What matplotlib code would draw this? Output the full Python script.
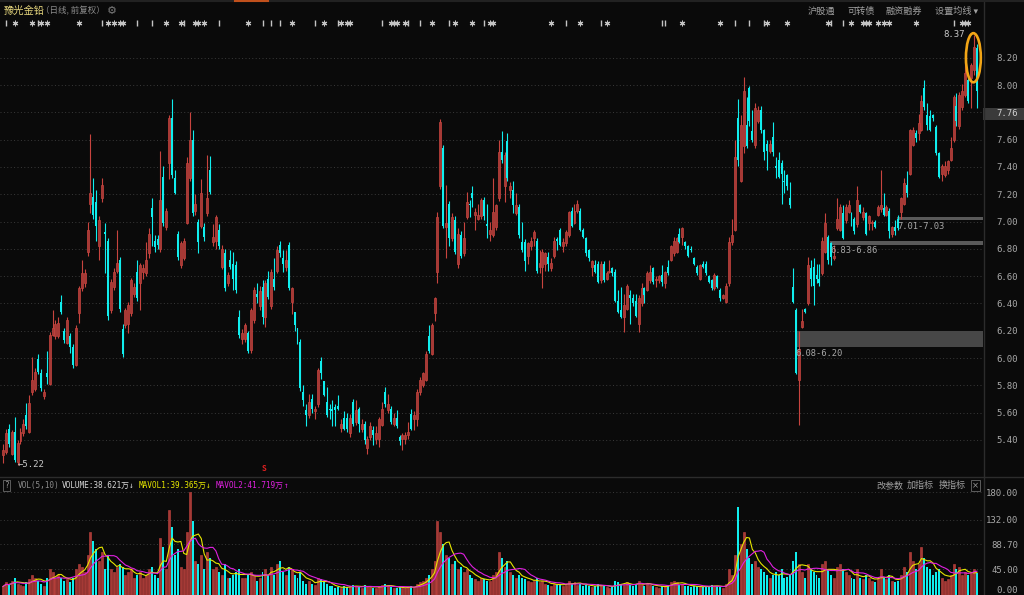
import numpy as np
import pandas as pd
import matplotlib.pyplot as plt
from matplotlib.patches import Rectangle, Ellipse
import matplotlib.transforms as mtransforms

plt.rcParams['font.family'] = ['Noto Sans CJK SC', 'DejaVu Sans']

# daily candles (price, yuan)
opens = [
    5.29, 5.31, 5.48, 5.30, 5.46, 5.24, 5.39, 5.45, 5.58, 5.46,
    5.75, 5.77, 5.99, 5.89, 5.72, 5.89, 5.81, 6.17, 6.16, 6.16,
    6.41, 6.20, 6.11, 6.16, 6.08, 5.95, 6.33, 6.51, 6.55, 6.78,
    7.13, 7.18, 7.14, 6.82, 7.17, 6.92, 6.86, 6.35, 6.52, 6.64,
    6.72, 6.21, 6.24, 6.25, 6.33, 6.47, 6.63, 6.55, 6.63, 6.62,
    6.77, 7.10, 6.86, 6.87, 6.80, 7.33, 6.96, 7.43, 7.76, 7.32,
    6.91, 6.68, 6.73, 6.99, 7.32, 7.60, 7.08, 7.00, 6.97, 6.96,
    7.06, 7.38, 6.85, 6.86, 6.94, 6.67, 6.77, 6.55, 6.72, 6.69,
    6.68, 6.30, 6.14, 6.14, 6.18, 6.06, 6.28, 6.47, 6.38, 6.52,
    6.30, 6.58, 6.38, 6.58, 6.64, 6.83, 6.73, 6.67, 6.83, 6.41,
    6.34, 6.22, 6.12, 5.75, 5.62, 5.58, 5.70, 5.61, 5.66, 5.98,
    5.83, 5.68, 5.63, 5.63, 5.64, 5.65, 5.49, 5.56, 5.56, 5.45,
    5.68, 5.53, 5.63, 5.48, 5.52, 5.34, 5.42, 5.47, 5.41, 5.41,
    5.51, 5.75, 5.62, 5.63, 5.52, 5.56, 5.42, 5.41, 5.41, 5.44,
    5.59, 5.55, 5.55, 5.75, 5.80, 5.84, 6.16, 6.03, 6.33, 6.63,
    7.26, 7.54, 6.96, 7.13, 6.88, 7.01, 6.69, 6.90, 6.77, 7.03,
    7.13, 7.21, 7.05, 7.02, 7.04, 7.16, 6.98, 6.91, 6.90, 6.96,
    7.17, 7.51, 7.26, 7.59, 7.23, 7.23, 7.06, 7.11, 6.85, 6.85,
    6.75, 6.82, 6.88, 6.86, 6.67, 6.67, 6.69, 6.74, 6.66, 6.75,
    6.87, 6.94, 6.82, 6.84, 6.90, 7.08, 6.99, 7.08, 7.08, 6.94,
    6.88, 6.79, 6.67, 6.68, 6.69, 6.57, 6.69, 6.58, 6.63, 6.66,
    6.63, 6.42, 6.35, 6.30, 6.36, 6.46, 6.44, 6.42, 6.25, 6.40,
    6.51, 6.50, 6.57, 6.66, 6.57, 6.57, 6.61, 6.55, 6.67, 6.72,
    6.77, 6.78, 6.91, 6.89, 6.85, 6.82, 6.80, 6.73, 6.67, 6.58,
    6.69, 6.69, 6.60, 6.57, 6.51, 6.60, 6.50, 6.44, 6.41, 6.55,
    6.85, 6.94, 7.76, 7.30, 7.55, 7.71, 7.98, 7.66, 7.56, 7.74,
    7.82, 7.67, 7.57, 7.52, 7.62, 7.41, 7.45, 7.43, 7.30, 7.34,
    7.17, 6.52, 6.35, 5.84, 6.23, 6.36, 6.40, 6.66, 6.67, 6.61,
    6.58, 6.62, 6.78, 6.89, 6.84, 6.73, 6.95, 6.94, 7.06, 7.01,
    7.07, 7.05, 7.02, 6.98, 7.12, 7.03, 7.06, 6.99, 6.99, 7.00,
    7.05, 7.09, 7.10, 7.05, 7.08, 6.91, 6.96, 7.02, 7.07, 7.13,
    7.27, 7.35, 7.56, 7.65, 7.65, 7.67, 7.98, 7.78, 7.77, 7.78,
    7.69, 7.50, 7.35, 7.34, 7.38, 7.45, 7.60, 7.85, 7.70, 7.84,
    7.93, 8.04, 8.05, 8.11, 8.27,
]
closes = [
    5.33, 5.45, 5.37, 5.46, 5.25, 5.38, 5.46, 5.52, 5.50, 5.67,
    5.84, 5.90, 5.90, 5.78, 5.75, 5.86, 6.17, 6.22, 6.25, 6.26,
    6.34, 6.13, 6.28, 6.08, 5.95, 6.22, 6.51, 6.62, 6.62, 6.94,
    7.21, 7.05, 6.97, 7.01, 7.27, 6.91, 6.31, 6.56, 6.63, 6.70,
    6.36, 6.03, 6.35, 6.39, 6.57, 6.52, 6.44, 6.68, 6.66, 6.72,
    6.91, 7.03, 6.81, 6.83, 7.16, 6.99, 7.08, 7.76, 7.34, 7.21,
    6.74, 6.84, 6.86, 7.43, 7.60, 7.06, 7.13, 6.85, 7.21, 6.89,
    7.17, 7.22, 6.89, 7.03, 6.82, 6.80, 6.51, 6.61, 6.67, 6.58,
    6.50, 6.17, 6.18, 6.24, 6.05, 6.35, 6.50, 6.45, 6.49, 6.30,
    6.55, 6.45, 6.63, 6.52, 6.79, 6.77, 6.69, 6.72, 6.51, 6.51,
    6.24, 6.12, 5.78, 5.69, 5.58, 5.68, 5.63, 5.63, 5.91, 5.89,
    5.73, 5.58, 5.62, 5.61, 5.62, 5.63, 5.52, 5.48, 5.48, 5.56,
    5.52, 5.62, 5.52, 5.52, 5.40, 5.41, 5.50, 5.44, 5.45, 5.55,
    5.63, 5.66, 5.66, 5.53, 5.56, 5.50, 5.39, 5.44, 5.44, 5.46,
    5.48, 5.58, 5.75, 5.84, 5.89, 6.03, 6.05, 6.24, 6.44, 7.03,
    7.73, 6.97, 6.99, 6.88, 7.03, 6.78, 6.91, 6.75, 6.88, 7.14,
    7.12, 7.17, 7.07, 7.05, 7.16, 7.04, 6.97, 6.94, 7.07, 7.12,
    7.51, 7.45, 7.49, 7.32, 7.26, 7.12, 7.12, 6.90, 6.79, 6.71,
    6.84, 6.86, 6.92, 6.64, 6.70, 6.78, 6.77, 6.69, 6.70, 6.86,
    6.86, 6.83, 6.85, 6.92, 7.07, 6.97, 7.08, 7.13, 6.94, 6.89,
    6.77, 6.73, 6.71, 6.63, 6.56, 6.69, 6.57, 6.62, 6.64, 6.62,
    6.42, 6.34, 6.30, 6.39, 6.53, 6.44, 6.40, 6.31, 6.44, 6.51,
    6.46, 6.62, 6.63, 6.56, 6.58, 6.60, 6.56, 6.63, 6.62, 6.82,
    6.86, 6.88, 6.85, 6.95, 6.82, 6.75, 6.79, 6.69, 6.62, 6.68,
    6.67, 6.62, 6.56, 6.51, 6.61, 6.52, 6.44, 6.46, 6.53, 6.85,
    6.90, 7.47, 7.45, 7.71, 7.96, 7.55, 7.74, 7.60, 7.83, 7.82,
    7.67, 7.51, 7.52, 7.57, 7.51, 7.39, 7.33, 7.35, 7.29, 7.26,
    7.12, 6.41, 5.89, 6.07, 6.27, 6.34, 6.68, 6.58, 6.53, 6.58,
    6.55, 6.86, 6.99, 6.72, 6.74, 6.75, 7.02, 7.11, 6.88, 7.11,
    7.12, 7.00, 6.93, 7.16, 7.07, 7.07, 6.91, 7.04, 7.00, 6.96,
    7.11, 7.12, 7.05, 7.11, 6.93, 6.96, 6.93, 6.95, 7.17, 7.28,
    7.21, 7.67, 7.67, 7.61, 7.72, 7.88, 7.84, 7.71, 7.67, 7.76,
    7.50, 7.33, 7.41, 7.41, 7.44, 7.54, 7.91, 7.74, 7.93, 7.96,
    8.09, 7.88, 8.15, 8.28, 7.96,
]
highs = [
    5.37, 5.48, 5.52, 5.47, 5.57, 5.40, 5.49, 5.55, 5.67, 5.73,
    6.01, 5.93, 6.03, 5.92, 5.77, 6.05, 6.19, 6.35, 6.28, 6.30,
    6.46, 6.22, 6.30, 6.18, 6.10, 6.24, 6.53, 6.72, 6.65, 7.00,
    7.64, 7.32, 7.23, 7.04, 7.32, 6.99, 6.88, 6.58, 6.66, 6.94,
    6.74, 6.25, 6.37, 6.41, 6.59, 6.55, 6.72, 6.70, 6.69, 6.85,
    6.95, 7.17, 6.90, 6.90, 7.52, 7.41, 7.10, 7.78, 7.90, 7.38,
    6.93, 6.86, 6.88, 7.47, 7.80, 7.67, 7.20, 7.02, 7.31, 6.99,
    7.49, 7.48, 6.98, 7.05, 6.98, 6.83, 6.80, 6.63, 6.79, 6.78,
    6.71, 6.35, 6.21, 6.26, 6.20, 6.37, 6.52, 6.55, 6.53, 6.57,
    6.57, 6.64, 6.65, 6.73, 6.82, 6.86, 6.79, 6.79, 6.85, 6.52,
    6.34, 6.22, 6.14, 5.80, 5.66, 5.74, 5.74, 5.65, 5.93, 6.01,
    5.83, 5.79, 5.66, 5.69, 5.66, 5.73, 5.55, 5.61, 5.60, 5.59,
    5.70, 5.69, 5.64, 5.55, 5.54, 5.43, 5.53, 5.50, 5.50, 5.57,
    5.68, 5.79, 5.74, 5.65, 5.60, 5.62, 5.44, 5.45, 5.46, 5.53,
    5.63, 5.61, 5.77, 5.86, 5.90, 6.05, 6.24, 6.26, 6.45, 7.07,
    7.75, 7.56, 7.27, 7.15, 7.06, 7.04, 6.95, 6.93, 7.00, 7.22,
    7.16, 7.26, 7.10, 7.13, 7.17, 7.18, 7.13, 7.00, 7.32, 7.13,
    7.60, 7.66, 7.51, 7.65, 7.29, 7.30, 7.21, 7.13, 7.00, 6.87,
    6.85, 6.89, 6.94, 6.88, 6.79, 6.80, 6.78, 6.78, 6.73, 6.89,
    6.89, 6.95, 6.88, 6.94, 7.08, 7.11, 7.13, 7.16, 7.10, 6.95,
    6.89, 6.80, 6.72, 6.72, 6.71, 6.71, 6.71, 6.64, 6.72, 6.67,
    6.65, 6.50, 6.52, 6.47, 6.54, 6.50, 6.47, 6.47, 6.46, 6.55,
    6.52, 6.64, 6.68, 6.67, 6.60, 6.61, 6.68, 6.64, 6.72, 6.83,
    6.89, 6.89, 6.95, 6.96, 6.86, 6.83, 6.82, 6.74, 6.68, 6.69,
    6.71, 6.71, 6.61, 6.58, 6.62, 6.61, 6.51, 6.47, 6.55, 6.89,
    7.02, 7.60, 7.90, 7.78, 8.06, 7.91, 7.99, 7.82, 7.87, 7.85,
    7.85, 7.68, 7.60, 7.60, 7.73, 7.47, 7.51, 7.45, 7.38, 7.35,
    7.29, 6.66, 6.37, 6.20, 6.36, 6.37, 6.74, 6.72, 6.73, 6.69,
    6.69, 6.89, 7.06, 6.90, 6.85, 6.83, 7.17, 7.13, 7.12, 7.13,
    7.16, 7.07, 7.03, 7.26, 7.13, 7.11, 7.07, 7.05, 7.01, 7.01,
    7.12, 7.38, 7.21, 7.12, 7.10, 6.97, 7.01, 7.05, 7.18, 7.32,
    7.37, 7.68, 7.69, 7.67, 7.79, 7.93, 8.04, 7.87, 7.82, 7.79,
    7.71, 7.51, 7.42, 7.44, 7.45, 7.62, 7.93, 7.94, 7.95, 8.01,
    8.16, 8.06, 8.16, 8.37, 8.30,
]
lows = [
    5.23, 5.30, 5.35, 5.29, 5.24, 5.22, 5.37, 5.43, 5.48, 5.45,
    5.73, 5.76, 5.88, 5.76, 5.70, 5.81, 5.80, 6.16, 6.14, 6.15,
    6.32, 6.11, 6.10, 6.04, 5.93, 5.94, 6.26, 6.49, 6.52, 6.75,
    7.06, 7.02, 6.86, 6.72, 7.14, 6.62, 6.28, 6.33, 6.50, 6.62,
    6.34, 6.01, 6.22, 6.18, 6.31, 6.45, 6.42, 6.35, 6.58, 6.60,
    6.73, 6.82, 6.78, 6.80, 6.78, 6.97, 6.94, 7.31, 7.32, 7.20,
    6.72, 6.66, 6.72, 6.98, 7.30, 7.04, 7.05, 6.77, 6.95, 6.86,
    7.04, 7.20, 6.82, 6.80, 6.80, 6.65, 6.49, 6.53, 6.65, 6.50,
    6.48, 6.15, 6.10, 6.12, 6.04, 6.04, 6.26, 6.40, 6.35, 6.25,
    6.23, 6.43, 6.36, 6.50, 6.62, 6.74, 6.63, 6.64, 6.50, 6.32,
    6.20, 6.10, 5.76, 5.65, 5.50, 5.56, 5.60, 5.55, 5.64, 5.85,
    5.72, 5.57, 5.55, 5.50, 5.50, 5.62, 5.46, 5.47, 5.46, 5.42,
    5.50, 5.51, 5.46, 5.46, 5.37, 5.30, 5.40, 5.36, 5.37, 5.35,
    5.50, 5.64, 5.60, 5.52, 5.50, 5.49, 5.36, 5.33, 5.37, 5.41,
    5.47, 5.47, 5.50, 5.73, 5.79, 5.83, 6.04, 6.02, 6.27, 6.55,
    7.24, 6.95, 6.73, 6.82, 6.86, 6.76, 6.66, 6.73, 6.75, 7.02,
    7.03, 7.11, 6.94, 7.01, 7.02, 7.01, 6.88, 6.86, 6.89, 6.94,
    7.15, 7.43, 7.14, 7.30, 7.17, 7.06, 7.05, 6.88, 6.78, 6.64,
    6.69, 6.79, 6.82, 6.62, 6.62, 6.51, 6.64, 6.64, 6.64, 6.73,
    6.79, 6.82, 6.78, 6.82, 6.89, 6.96, 6.98, 7.06, 6.93, 6.88,
    6.75, 6.71, 6.60, 6.62, 6.55, 6.55, 6.56, 6.57, 6.62, 6.60,
    6.41, 6.33, 6.29, 6.19, 6.35, 6.25, 6.38, 6.30, 6.19, 6.38,
    6.40, 6.49, 6.55, 6.54, 6.52, 6.55, 6.53, 6.51, 6.61, 6.71,
    6.75, 6.77, 6.84, 6.83, 6.80, 6.74, 6.78, 6.68, 6.61, 6.57,
    6.66, 6.61, 6.55, 6.50, 6.50, 6.51, 6.42, 6.43, 6.40, 6.53,
    6.83, 6.93, 7.41, 7.29, 7.50, 7.54, 7.70, 7.58, 7.54, 7.72,
    7.65, 7.45, 7.38, 7.50, 7.48, 7.32, 7.32, 7.13, 7.21, 7.23,
    7.10, 6.40, 5.88, 5.51, 6.22, 6.33, 6.39, 6.53, 6.39, 6.55,
    6.53, 6.61, 6.77, 6.69, 6.68, 6.72, 6.94, 6.93, 6.87, 6.99,
    7.06, 6.97, 6.91, 6.96, 7.06, 7.01, 6.90, 6.94, 6.94, 6.95,
    7.04, 7.07, 7.04, 7.04, 6.88, 6.89, 6.90, 6.94, 7.02, 7.12,
    7.18, 7.34, 7.55, 7.58, 7.60, 7.66, 7.82, 7.67, 7.66, 7.74,
    7.49, 7.32, 7.30, 7.33, 7.35, 7.44, 7.58, 7.70, 7.68, 7.82,
    7.91, 7.87, 7.83, 8.07, 7.83,
]
# daily volume (10k shares)
volume = [
    15, 22, 18, 25, 30, 20, 18, 15, 22, 28,
    35, 30, 25, 20, 15, 30, 45, 40, 30, 35,
    30, 25, 28, 22, 30, 45, 55, 50, 40, 70,
    110, 95, 80, 60, 75, 45, 70, 45, 40, 50,
    55, 50, 35, 40, 45, 30, 35, 40, 30, 35,
    45, 50, 35, 30, 100, 85, 45, 150, 120, 70,
    80, 50, 45, 110, 180, 130, 60, 55, 70, 45,
    75, 65, 45, 50, 40, 35, 55, 30, 30, 35,
    40, 45, 30, 30, 35, 40, 35, 25, 30, 40,
    45, 35, 50, 35, 55, 60, 40, 35, 50, 45,
    35, 30, 40, 25, 20, 25, 20, 18, 30, 28,
    22, 20, 15, 15, 12, 14, 12, 15, 14, 16,
    18, 15, 14, 12, 18, 15, 14, 12, 13, 16,
    18, 20, 15, 14, 12, 13, 15, 12, 12, 14,
    16, 14, 20, 22, 25, 30, 35, 45, 60, 130,
    110, 90, 70, 65, 55, 60, 45, 50, 40, 45,
    35, 30, 28, 25, 30, 28, 25, 24, 35, 40,
    75, 65, 50, 60, 40, 35, 30, 35, 30, 28,
    25, 22, 24, 30, 22, 25, 20, 18, 16, 20,
    18, 20, 16, 18, 25, 20, 22, 18, 20, 16,
    18, 15, 14, 15, 20, 18, 16, 14, 12, 14,
    25, 22, 20, 18, 22, 18, 15, 20, 25, 20,
    16, 20, 18, 16, 14, 13, 15, 16, 18, 22,
    25, 22, 18, 20, 16, 15, 14, 16, 15, 14,
    14, 16, 15, 18, 16, 15, 14, 12, 20, 45,
    35, 70, 155, 90, 110, 80, 65, 55, 60, 50,
    45, 40, 35, 30, 35, 40, 35, 45, 30, 32,
    35, 60, 75, 55, 40, 30, 55, 45, 40, 35,
    30, 55, 60, 45, 35, 30, 50, 55, 45, 40,
    35, 30, 28, 45, 30, 28, 35, 30, 25, 22,
    30, 45, 30, 28, 35, 25, 22, 25, 35, 50,
    40, 75, 60, 45, 55, 85, 65, 50, 45, 35,
    40, 45, 30, 25, 28, 35, 55, 45, 50, 35.6,
    40, 35, 38, 45, 38.621,
]

# gap zones drawn as grey bands: (start candle, low, high)
zone_start = [272, 284, 307]
zone_low = [6.08, 6.83, 7.01]
zone_high = [6.20, 6.86, 7.03]

# event markers above the candles
star_idx = [4, 10, 13, 15, 26, 36, 38, 40, 41, 56, 61, 66, 67, 69, 84, 99, 110,
            116, 118, 119, 133, 134, 135, 138, 147, 155, 161, 167, 168, 188, 198,
            207, 233, 246, 262, 269, 283, 291, 295, 296, 297, 300, 302, 304, 313,
            329, 330, 331]
bar_idx = [1, 12, 34, 46, 51, 62, 74, 89, 92, 95, 107, 115, 130, 139, 143, 153,
           165, 193, 205, 226, 227, 251, 256, 261, 284, 288, 326]

price_ticks = [5.4, 5.6, 5.8, 6.0, 6.2, 6.4, 6.6, 6.8, 7.0, 7.2, 7.4, 7.6, 7.8, 8.0, 8.2]
vol_ticks = [0, 45, 88.7, 132, 180]
last_price = 7.76

BG = '#0a0a0a'
RED = '#c8443f'
RED_FILL = '#a53a36'
CYAN = '#10eeee'
GRID = '#3a3a3a'
TXT = '#a8a8a8'

o = np.array(opens)
c = np.array(closes)
h = np.array(highs)
l = np.array(lows)
v = np.array(volume)
n = len(c)
x = np.arange(n)
up = c >= o

W, H = 1024, 595
def fx(px):
    return px / W
def fy(py):
    return 1 - py / H

LABEL_PAD = 35 / 1.389  # right-aligned axis labels end ~35px right of the plot edge

fig = plt.figure(figsize=(10.24, 5.95), dpi=100, facecolor=BG)

# ---------- price panel ----------
ax = fig.add_axes([0, fy(476), fx(983), fy(0) - fy(476)])
ax.set_facecolor(BG)
ax.set_xlim(-1.03, 336.1)
ax.set_ylim(5.136, 8.623)
for s in ax.spines.values():
    s.set_visible(False)
ax.set_xticks([])
for t in price_ticks:
    ax.axhline(t, color=GRID, lw=0.7, ls=(0, (1, 2.5)), zorder=0)

ax.yaxis.tick_right()
ax.set_yticks(price_ticks)
ax.set_yticklabels(['' if abs(t - 7.8) < 1e-6 else f'{t:.2f}' for t in price_ticks])
ax.tick_params(axis='y', length=0, pad=LABEL_PAD, labelsize=6.5, labelcolor=TXT)
for t in ax.get_yticklabels():
    t.set_fontfamily('DejaVu Sans Mono')
    t.set_ha('right')

body = np.maximum(np.abs(c - o), 0.006)
bottom = np.minimum(o, c)
ax.vlines(x[up], l[up], h[up], color=RED, lw=0.8, zorder=2)
ax.vlines(x[~up], l[~up], h[~up], color=CYAN, lw=0.8, zorder=2)
ax.bar(x[up], body[up], bottom=bottom[up], width=0.68, color=RED_FILL,
       edgecolor=RED, lw=0.5, zorder=3)
ax.bar(x[~up], body[~up], bottom=bottom[~up], width=0.68, color=CYAN, lw=0, zorder=3)

# grey zones
for s0, lo, hi in zip(zone_start, zone_low, zone_high):
    col = '#474747' if hi - lo > 0.05 else '#5a5a5a'
    ax.add_patch(Rectangle((s0 - 0.5, lo), 336.1 - s0 + 0.5, max(hi - lo, 0.022),
                           fc=col, ec='none', zorder=1))
    ax.text(s0 - 0.2, lo - 0.012, f'{lo:.2f}-{hi:.2f}', color=TXT, fontsize=6.3,
            va='top', ha='left', family='DejaVu Sans Mono', zorder=4)

# high / low labels
hi_i = int(np.argmax(h))
lo_i = int(np.argmin(l))
ax.annotate(f'{h[hi_i]:.2f}', xy=(hi_i - 0.3, h[hi_i]), xytext=(-6, 0),
            textcoords='offset points', ha='right', va='center', color='#c8c8c8',
            fontsize=6.5, family='DejaVu Sans Mono',
            arrowprops=dict(arrowstyle='-', color='#c8c8c8', lw=0.8))
ax.text(lo_i - 0.1, l[lo_i], f'\u2190{l[lo_i]:.2f}', ha='left', va='center',
        color='#c8c8c8', fontsize=6.5, family='DejaVu Sans Mono')

# orange highlight ring on latest candles
ax.add_patch(Ellipse((332.8, 8.20), 5.1, 0.36, fill=False, ec='#f2a516', lw=1.9, zorder=5))

# current price box
tr = mtransforms.blended_transform_factory(ax.transAxes, ax.transData)
ax.add_patch(Rectangle((1.0, 7.745), 0.045, 0.088, transform=tr, fc='#3a3a3a', ec='none',
                       clip_on=False, zorder=4))
ax.text(1.0 + 35 / 983, 7.789, f'{last_price:.2f}', transform=tr, color='#d0d0d0',
        fontsize=6.5, va='center', ha='right', family='DejaVu Sans Mono', clip_on=False,
        zorder=5)

# event markers row
trm = mtransforms.blended_transform_factory(ax.transData, ax.transAxes)
ax.scatter(star_idx, [1 - 23 / 476] * len(star_idx), transform=trm, marker=(6, 2, 0),
           s=12, color='#c4c4c4', lw=0.8, zorder=5)
ax.scatter(bar_idx, [1 - 23 / 476] * len(bar_idx), transform=trm, marker='|',
           s=14, color='#c4c4c4', lw=1.0, zorder=5)

# small red signal mark under the candles
ax.text(89.5, 5.19, 'S', color='#e02020', fontsize=5.5, fontweight='bold',
        ha='center', va='center')

# ---------- volume panel ----------
av = fig.add_axes([0, 0, fx(983), fy(478)])
av.set_facecolor(BG)
av.set_xlim(-1.03, 336.1)
av.set_ylim(0, 205.3)
for s in av.spines.values():
    s.set_visible(False)
av.set_xticks([])
for t in vol_ticks[1:]:
    av.axhline(t, color=GRID, lw=0.7, ls=(0, (1, 2.5)), zorder=0)
av.bar(x[up], v[up], width=0.68, color=RED_FILL, edgecolor=RED, lw=0.4, zorder=2)
av.bar(x[~up], v[~up], width=0.68, color=CYAN, lw=0, zorder=2)
ma5 = pd.Series(v).rolling(5, min_periods=1).mean()
ma10 = pd.Series(v).rolling(10, min_periods=1).mean()
av.plot(x, ma5, color='#e6e600', lw=0.8, zorder=3)
av.plot(x, ma10, color='#e020e0', lw=0.8, zorder=3)
av.yaxis.tick_right()
av.set_yticks(vol_ticks)
av.set_yticklabels([f'{t:.2f}' for t in vol_ticks])
av.tick_params(axis='y', length=0, pad=LABEL_PAD, labelsize=6.5, labelcolor=TXT)
for t in av.get_yticklabels():
    t.set_fontfamily('DejaVu Sans Mono')
    t.set_ha('right')
av.get_yticklabels()[0].set_va('bottom')

# ---------- frame lines ----------
fig.add_artist(plt.Line2D([fx(983.5), fx(983.5)], [0, 1], color='#2c2c2c', lw=1))
fig.add_artist(plt.Line2D([0, 1], [fy(476.5), fy(476.5)], color='#2c2c2c', lw=1))
fig.add_artist(plt.Line2D([0, 1], [fy(1), fy(1)], color='#222222', lw=1.5))
fig.add_artist(plt.Line2D([fx(235), fx(268)], [fy(1), fy(1)], color='#c0501c', lw=1.5))

# ---------- header texts ----------
fig.text(fx(4), fy(11), '豫光金铅', color='#e8d87e', fontsize=7.4, va='center')
fig.text(fx(41), fy(11), '（日线, 前复权）', color='#8c8c8c', fontsize=6.1, va='center')
fig.text(fx(107), fy(11), '\u2699', color='#7a7a7a', fontsize=8, va='center',
         family=['DejaVu Sans'])
for label, px in [('沪股通', 808), ('可转债', 848), ('融资融券', 886), ('设置均线 ▾', 935)]:
    fig.text(fx(px), fy(11), label, color='#a0a0a0', fontsize=6.6, va='center',
             family=['Noto Sans CJK SC', 'DejaVu Sans'])

hy = fy(485.5)
fig.text(fx(4), hy, '?', color='#9a9a9a', fontsize=5.5, va='center', family='DejaVu Sans Mono',
         bbox=dict(boxstyle='square,pad=0.15', fc='none', ec='#6a6a6a', lw=0.6))
parts = [('VOL(5,10)', 18, '#8c8c8c'), ('VOLUME:38.621万', 62, '#d8d8d8'), ('\u2193', 129, '#d8d8d8'),
         ('MAVOL1:39.365万', 139, '#e6e600'), ('\u2193', 206, '#e6e600'),
         ('MAVOL2:41.719万', 216, '#e020e0'), ('\u2191', 284, '#e020e0')]
for label, px, col in parts:
    fig.text(fx(px), hy, label, color=col, fontsize=5.6, va='center',
             family=['DejaVu Sans Mono', 'Noto Sans CJK SC'])
for label, px in [('改参数', 876), ('加指标', 907), ('换指标', 939)]:
    fig.text(fx(px), hy, label, color='#a0a0a0', fontsize=6.5, va='center')
fig.text(fx(972), hy, '×', color='#9a9a9a', fontsize=6, va='center', family='DejaVu Sans',
         bbox=dict(boxstyle='square,pad=0.1', fc='none', ec='#6a6a6a', lw=0.6))

fig.savefig('out.png', dpi=100, facecolor=BG)
